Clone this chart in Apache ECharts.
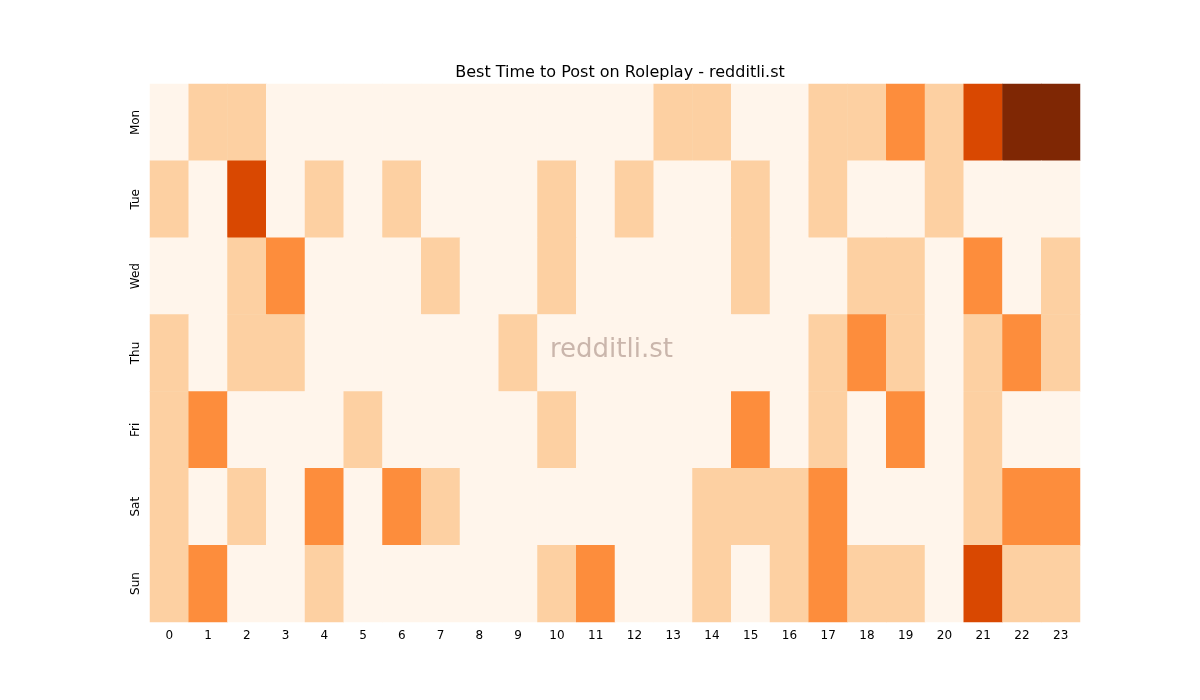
<!DOCTYPE html>
<html><head><meta charset="utf-8">
<script src="https://cdn.jsdelivr.net/npm/echarts@6/dist/echarts.min.js"></script>
<style>html,body{margin:0;padding:0;background:#fff}#c{width:1200px;height:700px}</style>
</head><body><div id="c"></div>
<script>
const hours = ['0','1','2','3','4','5','6','7','8','9','10','11','12','13','14','15','16','17','18','19','20','21','22','23'];
const days = ['Mon','Tue','Wed','Thu','Fri','Sat','Sun'];
const mon = [0,1,1,0,0,0,0,0,0,0,0,0,0,1,1,0,0,1,1,2,1,3,4,4];
const tue = [1,0,3,0,1,0,1,0,0,0,1,0,1,0,0,1,0,1,0,0,1,0,0,0];
const wed = [0,0,1,2,0,0,0,1,0,0,1,0,0,0,0,1,0,0,1,1,0,2,0,1];
const thu = [1,0,1,1,0,0,0,0,0,1,0,0,0,0,0,0,0,1,2,1,0,1,2,1];
const fri = [1,2,0,0,0,1,0,0,0,0,1,0,0,0,0,2,0,1,0,2,0,1,0,0];
const sat = [1,0,1,0,2,0,2,1,0,0,0,0,0,0,1,1,1,2,0,0,0,1,2,2];
const sun = [1,2,0,0,1,0,0,0,0,0,1,2,0,0,1,0,1,2,1,1,0,3,1,1];
const rows = [mon,tue,wed,thu,fri,sat,sun];
const data = [];
rows.forEach((r,y)=>r.forEach((v,x)=>data.push([x,y,v])));
const chart = echarts.init(document.getElementById('c'));
chart.setOption({
  animation:false,
  title:{text:'Best Time to Post on Roleplay - redditli.st',left:615,textAlign:'center',top:60,textStyle:{fontFamily:'DejaVu Sans',fontSize:16,fontWeight:'normal',color:'#000'}},
  graphic:[{type:'text',left:550,top:337,style:{text:'redditli.st',font:'26px DejaVu Sans',fill:'rgba(150,120,110,0.5)'},z:100}],
  grid:{left:150,right:120,top:84,bottom:78},
  xAxis:{type:'category',data:hours,axisLine:{show:false},axisTick:{length:5,lineStyle:{color:'#000'}},axisLabel:{color:'#000',fontFamily:'DejaVu Sans',fontSize:12},splitLine:{show:false}},
  yAxis:{type:'category',data:days,inverse:true,axisLine:{show:false},axisTick:{length:5,lineStyle:{color:'#000'}},axisLabel:{color:'#000',rotate:90,fontFamily:'DejaVu Sans',fontSize:12},splitLine:{show:false}},
  visualMap:{show:false,type:'piecewise',dimension:2,pieces:[
    {value:0,color:'#fff5eb'},{value:1,color:'#fdd0a2'},{value:2,color:'#fd8d3c'},{value:3,color:'#d94801'},{value:4,color:'#7f2704'}]},
  series:[{type:'heatmap',data:data,itemStyle:{borderWidth:0}}]
});
</script></body></html>
